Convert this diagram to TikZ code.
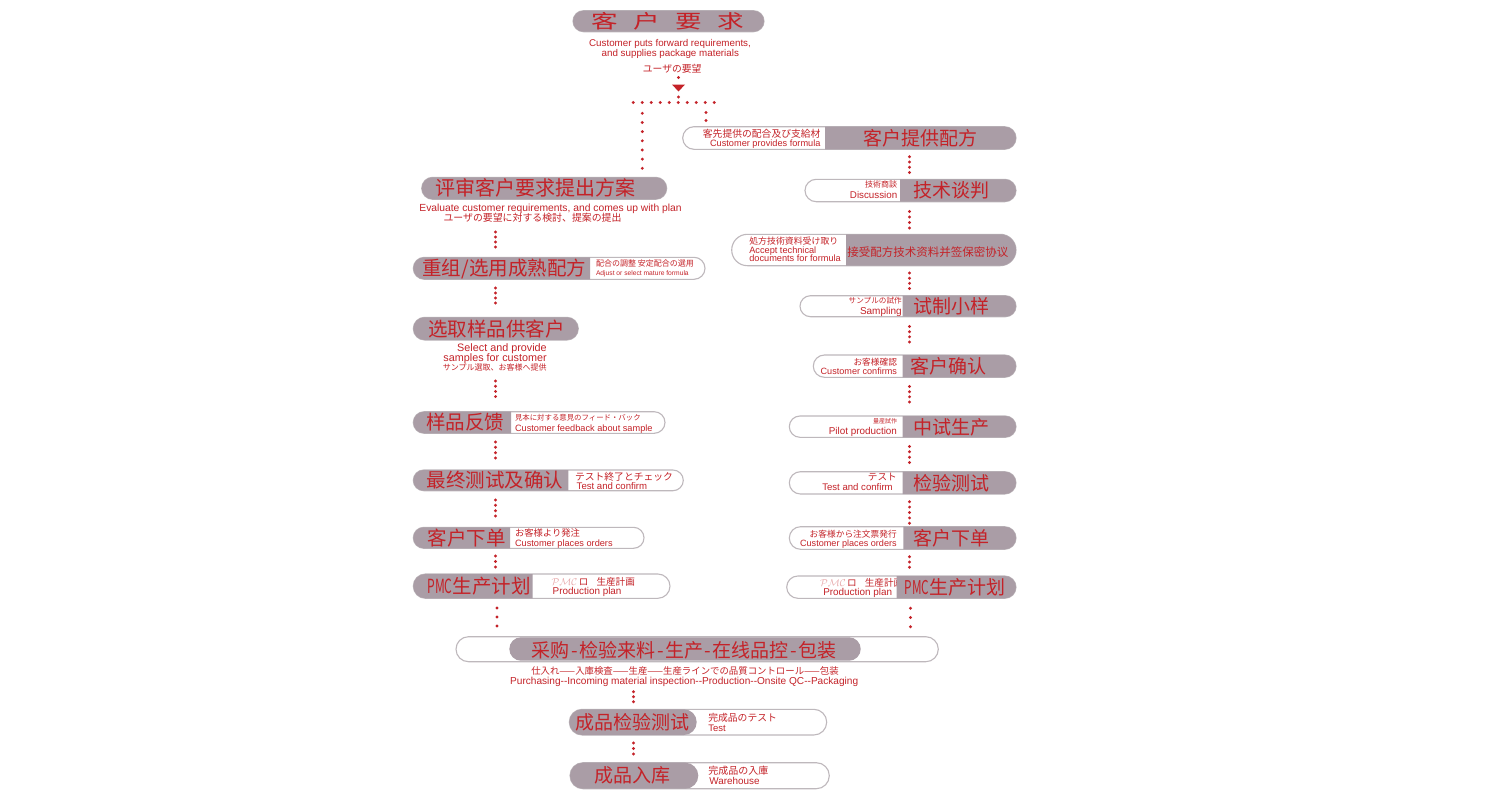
\documentclass[tikz,border=0pt]{standalone}
\usepackage{fontspec}
\setmainfont{Liberation Sans}
\newfontfamily\zh{Noto Sans CJK SC}
\newfontfamily\ja{Noto Sans CJK JP}
\definecolor{myred}{RGB}{196,34,40}
\definecolor{pgrey}{RGB}{170,157,166}
\definecolor{pline}{RGB}{190,184,188}
\newcommand\fz[1]{\fontsize{#1}{#1}\selectfont}
\newcommand\pillnode[5]{%
  \pgfmathsetmacro\pillrad{(#5-#4)/2}%
  \node[pillbox, minimum width={(#3-#2)*1pt}, minimum height={(#5-#4)*1pt}, rounded corners=\pillrad pt] (#1) at ({(#2+#3)/2},{(#4+#5)/2}) {};}
\newcommand\pillgrey[6]{%
  \pgfmathsetmacro\pillrad{(#4-#3)/2}%
  \begin{scope}
    \clip (#5,#3-1) rectangle (#6,#4+1);
    \fill[pgrey, rounded corners=\pillrad pt] (#1,#3) rectangle (#2,#4);
  \end{scope}}
\newcommand\pill[7]{\pillnode{#1}{#2}{#3}{#4}{#5}\pillgrey{#2}{#3}{#4}{#5}{#6}{#7}}
\newcommand\pmcs{{\color{myred!40}$\mathcal{PMC}$}\,{\ja ロ}}
\newcommand\bdash{\hspace{1.6pt}-\hspace{1.6pt}}
\begin{document}
\begin{tikzpicture}[x=1pt,y=-1pt,
  pillbox/.style={draw=pline, fill=white, line width=1.1pt, inner sep=0pt, outer sep=0pt},
  t/.style={inner sep=0pt, outer sep=0pt, text=myred},
  big/.style={t, anchor=base, font=\zh\fz{19.5}},
  dotline/.style={draw=myred, line width=3.2pt, line cap=round, dash pattern=on 0pt off #1}]
\fill[white] (0,0) rectangle (1500,798);
\useasboundingbox (0,0) rectangle (1500,798);

% ---------- pills ----------
\pill{top}{573}{764}{10.7}{31.7}{573}{764}
\pill{rf}{682.7}{1016}{126.7}{149.3}{825}{1016}
\pill{eval}{421.7}{666.7}{177.3}{199.3}{421.7}{666.7}
\pill{disc}{805}{1016}{179.3}{201.7}{900}{1016}
\pill{remix}{413.3}{705}{257.3}{279.3}{413.3}{590}
\pill{accept}{731.7}{1016}{234.3}{265.7}{846}{1016}
\pill{sampling}{800}{1016}{295.7}{316.7}{902.7}{1016}
\pill{select}{413.3}{578.3}{317.3}{340}{413.3}{578.3}
\pill{confirm}{813.3}{1016}{355}{377.3}{902.7}{1016}
\pill{feedback}{413.3}{665}{411.7}{433.3}{413.3}{511}
\pill{pilot}{789.3}{1016}{416}{437.3}{902.7}{1016}
\pill{final}{413.3}{683.3}{470}{490.7}{413.3}{568.3}
\pill{inspect}{789.3}{1016}{471.7}{494}{902.7}{1016}
\pill{order}{413.3}{644}{527.3}{548.3}{413.3}{510}
\pill{rorder}{789.3}{1016}{526.7}{549.3}{903.3}{1016}
\pill{pmc}{413.3}{670}{574}{598.3}{413.3}{532.7}
\pillnode{rpmc}{786.7}{1016}{576}{598.3}
\node[t, anchor=base west, font=\ja\fz{9.6}] (rpmcja) at (820,586.8) {\pmcs\hspace{8pt}生産計画};
\node[t, anchor=base west, font=\fz{9.9}] (rpmcen) at (823.3,595.3) {Production plan};
\pillgrey{786.7}{1016}{576}{598.3}{896.7}{1016}
\pillnode{bar}{456}{938.3}{636.7}{661.7}
\fill[pgrey, rounded corners=11.7pt] (509.3,637.3) rectangle (860.7,660.7);
\pillnode{test}{569.3}{826.7}{709.3}{735}
\fill[pgrey, rounded corners=12.8pt] (569.3,709.3) rectangle (696.7,735);
\pillnode{wh}{570}{829.3}{762.7}{788.7}
\fill[pgrey, rounded corners=13pt] (570,762.7) rectangle (698.3,788.7);

% ---------- big texts ----------
\node[t, anchor=base, font=\zh\fz{19}] (toptxt) at (667.5,28.2) {\scalebox{1.4}[1]{客\hspace{11pt}户\hspace{11pt}要\hspace{11pt}求}};
\node[big, font=\zh\fz{19}] (rftxt) at (920,145.2) {客户提供配方};
\node[big, font=\zh\fz{20}] (evaltxt) at (535,195.9) {评审客户要求提出方案};
\node[big, font=\zh\fz{19}] (disctxt) at (951.5,197.9) {技术谈判};
\node[big] (remixtxt) at (504.2,275.7) {重组/选用成熟配方};
\node[big, font=\zh\fz{11.5}] (accepttxt) at (927.8,256.7) {接受配方技术资料并签保密协议};
\node[big, font=\zh\fz{19}] (samptxt) at (951.7,313.6) {试制小样};
\node[big] (selecttxt) at (496.5,336.1) {选取样品供客户};
\node[big, font=\zh\fz{19}] (conftxt) at (948.3,373.6) {客户确认};
\node[big] (fbtxt) at (465,429.9) {样品反馈};
\node[big, font=\zh\fz{19}] (pilottxt) at (951.5,434.1) {中试生产};
\node[big] (finaltxt) at (495,487.7) {最终测试及确认};
\node[big, font=\zh\fz{19}] (insptxt) at (951,490.3) {检验测试};
\node[big] (ordertxt) at (466.5,545.2) {客户下单};
\node[big, font=\zh\fz{19}] (rordertxt) at (951,545.4) {客户下单};
\node[big] (pmctxt) at (479,593.6) {\scalebox{0.62}[1]{PMC}生产计划};
\node[big, font=\zh\fz{19}] (rpmctxt) at (955,594.6) {\scalebox{0.62}[1]{PMC}生产计划};
\node[big, font=\zh\fz{19}] (bartxt) at (684.2,657.6) {采购\bdash 检验来料\bdash 生产\bdash 在线品控\bdash 包装};
\node[big, font=\zh\fz{19}] (testtxt) at (632,729.4) {成品检验测试};
\node[big, font=\zh\fz{19}] (whtxt) at (632.5,782.9) {成品入库};

% ---------- small texts ----------
\node[t, anchor=base, font=\fz{9.8}] (topen1) at (670,46.2) {Customer puts forward requirements,};
\node[t, anchor=base, font=\fz{9.8}] (topen2) at (670.3,56.8) {and supplies package materials};
\node[t, anchor=base, font=\ja\fz{9.8}] (topja) at (672.2,72) {ユーザの要望};

\node[t, anchor=base east, font=\ja\fz{9.8}] (rfja) at (820.5,137.6) {客先提供の配合及び支給材};
\node[t, anchor=base east, font=\fz{9.2}] (rfen) at (820.5,146.6) {Customer provides formula};

\node[t, anchor=base, font=\fz{10.3}] (evalen) at (550.5,211) {Evaluate customer requirements, and comes up with plan};
\node[t, anchor=base, font=\ja\fz{9.9}] (evalja) at (532.5,221.9) {ユーザの要望に対する検討、提案の提出};

\node[t, anchor=base east, font=\ja\fz{8}] (discja) at (897,187.2) {技術商談};
\node[t, anchor=base east, font=\fz{9.8}] (discen) at (897.3,198.5) {Discussion};

\node[t, anchor=base west, font=\ja\fz{8}] (remixja) at (596,266.2) {配合の調整 安定配合の選用};
\node[t, anchor=base west, font=\fz{6.7}] (remixen) at (596,275.7) {Adjust or select mature formula};

\node[t, anchor=base west, font=\ja\fz{8.9}] (acceptja) at (749.3,244.9) {処方技術資料受け取り};
\node[t, anchor=base west, font=\fz{9.2}] (accepten1) at (749.3,253.6) {Accept technical};
\node[t, anchor=base west, font=\fz{9.2}] (accepten2) at (749.3,261.6) {documents for formula};

\node[t, anchor=base east, font=\ja\fz{7.6}] (sampja) at (901.7,303.7) {サンプルの試作};
\node[t, anchor=base east, font=\fz{10}] (sampen) at (901.7,314.3) {Sampling};

\node[t, anchor=base east, font=\fz{10.8}] (selecten1) at (546.7,351.2) {Select and provide};
\node[t, anchor=base east, font=\fz{10.8}] (selecten2) at (546.7,361.2) {samples for customer};
\node[t, anchor=base east, font=\ja\fz{8}] (selectja) at (546.7,370.6) {サンプル選取、お客様へ提供};

\node[t, anchor=base east, font=\ja\fz{8.7}] (confja) at (897,365.8) {お客様確認};
\node[t, anchor=base east, font=\fz{9.1}] (confen) at (897,374.3) {Customer confirms};

\node[t, anchor=base west, font=\ja\fz{7.4}] (fbja) at (515,420) {見本に対する意見のフィード・バック};
\node[t, anchor=base west, font=\fz{9.2}] (fben) at (515,431.6) {Customer feedback about sample};

\node[t, anchor=base east, font=\ja\fz{6}] (pilotja) at (897,423.9) {量産試作};
\node[t, anchor=base east, font=\fz{9.9}] (piloten) at (897,434.3) {Pilot production};

\node[t, anchor=base west, font=\ja\fz{9.8}] (finalja) at (575,480.2) {テスト終了とチェック};
\node[t, anchor=base west, font=\fz{9.6}] (finalen) at (576.7,489.5) {Test and confirm};

\node[t, anchor=base east, font=\ja\fz{9.6}] (inspja) at (896.7,480.8) {テスト};
\node[t, anchor=base east, font=\fz{9.6}] (inspen) at (892.7,490.8) {Test and confirm};

\node[t, anchor=base west, font=\ja\fz{9.3}] (orderja) at (515,536.7) {お客様より発注};
\node[t, anchor=base west, font=\fz{9.2}] (orderen) at (515,546.6) {Customer places orders};

\node[t, anchor=base east, font=\ja\fz{8.7}] (rorderja) at (896.7,537.1) {お客様から注文票発行};
\node[t, anchor=base east, font=\fz{9.1}] (rorderen) at (896.7,546.6) {Customer places orders};

\node[t, anchor=base west, font=\ja\fz{9.6}] (pmcja) at (551.7,585.2) {\pmcs\hspace{8pt}生産計画};
\node[t, anchor=base west, font=\fz{9.9}] (pmcen) at (552.7,594.3) {Production plan};

\node[t, anchor=base, font=\ja\fz{9.4}] (barja) at (685,674.1) {仕入れ——入庫検査——生産——生産ラインでの品質コントロール——包装};
\node[t, anchor=base, font=\fz{10.1}] (baren) at (684.2,684.6) {Purchasing-{}-Incoming material inspection-{}-Production-{}-Onsite QC-{}-Packaging};

\node[t, anchor=base west, font=\ja\fz{9.8}] (testja) at (708.3,721.8) {完成品のテスト};
\node[t, anchor=base west, font=\fz{9.5}] (testen) at (708.3,731.1) {Test};

\node[t, anchor=base west, font=\ja\fz{10}] (whja) at (708.3,774.6) {完成品の入庫};
\node[t, anchor=base west, font=\fz{9.9}] (when) at (709.3,784.3) {Warehouse};

% ---------- top connector ----------
\coordinate (tri) at (678.5,87.5);
\fill[myred] (672,84.5) -- (685,84.5) -- (678.5,91.5) -- cycle;
\coordinate (d1) at (678.5,77.5);
\coordinate (d2) at (678.5,97);
\draw[dotline=10pt] (d1) -- (tri);
\draw[dotline=10pt] (d2) -- ++(0,0.01);
\coordinate (rowL) at (633.3,102.5);
\coordinate (rowR) at (714.5,102.5);
\draw[dotline=9pt] (rowL) -- (rowR);
\coordinate (vL) at (642.3,113.3);
\coordinate (vR) at (706,112.5);
\draw[dotline=9.17pt, shorten >=8.7pt] (vL) -- (eval.north -| vL);
\draw[dotline=8pt, shorten >=5.9pt] (vR) -- (rf.north -| vR);

% ---------- left column ----------
\coordinate (cL) at (495.5,0);
\coordinate (cL2) at (497,0);
\draw[dotline=5pt, shorten <=32.7pt, shorten >=10pt] (eval.south -| cL) -- (remix.north -| cL);
\draw[dotline=5pt, shorten <=8.7pt, shorten >=14pt] (remix.south -| cL) -- (select.north -| cL);
\draw[dotline=5.2pt, shorten <=41pt, shorten >=14.8pt] (select.south -| cL) -- (feedback.north -| cL);
\draw[dotline=5.33pt, shorten <=8.7pt, shorten >=11.7pt] (feedback.south -| cL) -- (final.north -| cL);
\draw[dotline=5.33pt, shorten <=9.3pt, shorten >=11pt] (final.south -| cL) -- (order.north -| cL);
\draw[dotline=5.5pt, shorten <=7.7pt, shorten >=6.7pt] (order.south -| cL) -- (pmc.north -| cL);
\draw[dotline=9pt, shorten <=9.7pt, shorten >=10.4pt] (pmc.south -| cL2) -- (bar.north -| cL2);

% ---------- right column ----------
\coordinate (cR) at (909.5,0);
\coordinate (cR2) at (910.5,0);
\draw[dotline=5.27pt, shorten <=7.4pt, shorten >=6.5pt] (rf.south -| cR) -- (disc.north -| cR);
\draw[dotline=5.5pt, shorten <=9.8pt, shorten >=6pt] (disc.south -| cR) -- (accept.north -| cR);
\draw[dotline=5.17pt, shorten <=7.3pt, shorten >=6.9pt] (accept.south -| cR) -- (sampling.north -| cR);
\draw[dotline=5.17pt, shorten <=9.8pt, shorten >=12.7pt] (sampling.south -| cR) -- (confirm.north -| cR);
\draw[dotline=5.17pt, shorten <=9.2pt, shorten >=13.7pt] (confirm.south -| cR) -- (pilot.north -| cR);
\draw[dotline=5.33pt, shorten <=9.2pt, shorten >=8.9pt] (pilot.south -| cR) -- (inspect.north -| cR);
\draw[dotline=5.4pt, shorten <=7.7pt, shorten >=3.1pt] (inspect.south -| cR) -- (rorder.north -| cR);
\draw[dotline=5.3pt, shorten <=7.4pt, shorten >=8.4pt] (rorder.south -| cR) -- (rpmc.north -| cR);
\draw[dotline=9.2pt, shorten <=10pt, shorten >=9.7pt] (rpmc.south -| cR2) -- (bar.north -| cR2);

% ---------- bottom ----------
\coordinate (cB) at (633.5,0);
\draw[dotline=5pt, shorten <=30pt, shorten >=7.3pt] (bar.south -| cB) -- (test.north -| cB);
\draw[dotline=5.5pt, shorten <=8pt, shorten >=8.4pt] (test.south -| cB) -- (wh.north -| cB);
\end{tikzpicture}
\end{document}
